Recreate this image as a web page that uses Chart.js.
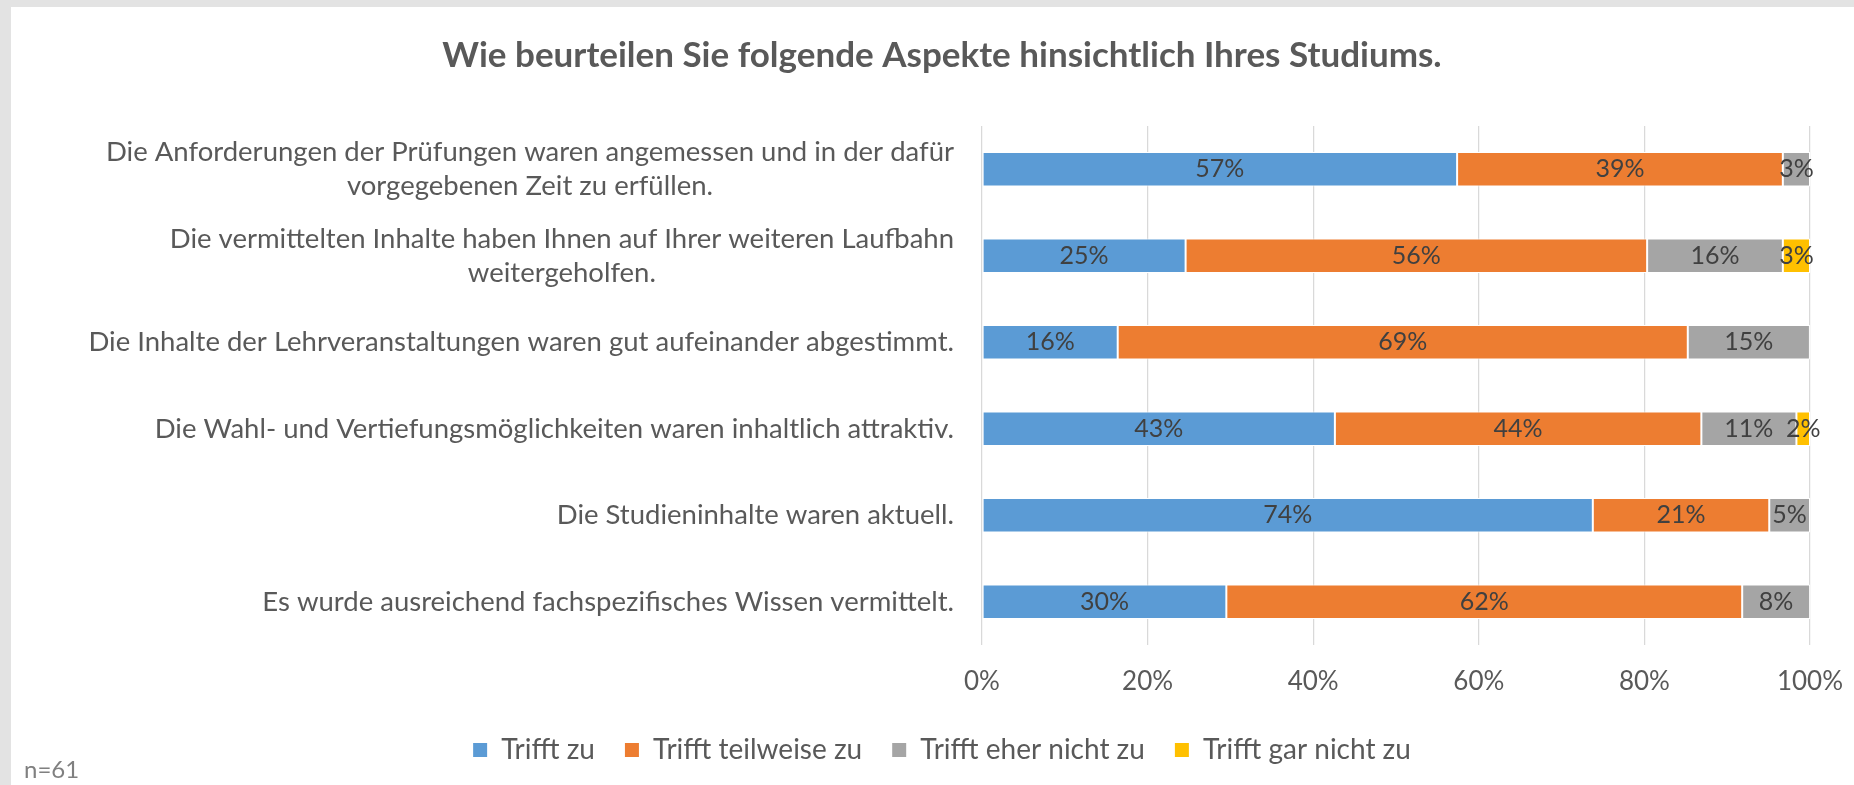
<!DOCTYPE html>
<html>
<head>
<meta charset="utf-8">
<script src="https://cdn.jsdelivr.net/npm/chart.js@4.4.1/dist/chart.umd.min.js"></script>
<style>
html, body { margin: 0; padding: 0; background: #e3e3e3; }
#wrap { position: absolute; left: 11px; top: 7px; width: 1843px; height: 778px; background: #fff; }
#note { position: absolute; left: 13px; top: 747px; font: 24px Lato; color: #808080; }
</style>
</head>
<body>
<div id="wrap">
    <canvas id="c" width="1843" height="778"></canvas>
    <div id="note">n=61</div>
</div>
<script>
// survey answers in percent, n=61
const categories = [
    ["Die Anforderungen der Prüfungen waren angemessen und in der dafür", "vorgegebenen Zeit zu erfüllen."],
    ["Die vermittelten Inhalte haben Ihnen auf Ihrer weiteren Laufbahn", "weitergeholfen."],
    "Die Inhalte der Lehrveranstaltungen waren gut aufeinander abgestimmt.",
    "Die Wahl- und Vertiefungsmöglichkeiten waren inhaltlich attraktiv.",
    "Die Studieninhalte waren aktuell.",
    "Es wurde ausreichend fachspezifisches Wissen vermittelt."
];
const trifftZu        = [57.38, 24.59, 16.39, 42.62, 73.77, 29.51];
const trifftTeilweise = [39.34, 55.74, 68.85, 44.26, 21.31, 62.30];
const trifftEherNicht = [3.28, 16.39, 14.75, 11.48, 4.92, 8.20];
const trifftGarNicht  = [0, 3.28, 0, 1.64, 0, 0];
const xTicks = [0, 20, 40, 60, 80, 100];

const FONT = "Lato";

const catLabels = {
    id: "catLabels",
    afterDraw(chart) {
        const ctx = chart.ctx;
        const y = chart.scales.y;
        const right = chart.chartArea.left - 28;
        ctx.save();
        ctx.font = "27.5px " + FONT;
        ctx.fillStyle = "#595959";
        ctx.textAlign = "center";
        ctx.textBaseline = "middle";
        categories.forEach((lab, i) => {
            const lines = Array.isArray(lab) ? lab : [lab];
            const w = Math.max(...lines.map(l => ctx.measureText(l).width));
            const cy = y.getPixelForValue(i);
            lines.forEach((l, j) => {
                ctx.fillText(l, right - w / 2, cy + (j - (lines.length - 1) / 2) * 34);
            });
        });
        ctx.restore();
    }
};

const barLabels = {
    id: "barLabels",
    afterDatasetsDraw(chart) {
        const ctx = chart.ctx;
        ctx.save();
        ctx.font = "25px " + FONT;
        ctx.fillStyle = "#404040";
        ctx.textAlign = "center";
        ctx.textBaseline = "middle";
        chart.data.datasets.forEach((ds, d) => {
            chart.getDatasetMeta(d).data.forEach((bar, i) => {
                const v = ds.data[i];
                if (!v) return;
                ctx.fillText(Math.round(v) + "%", (bar.x + bar.base) / 2, bar.y);
            });
        });
        ctx.restore();
    }
};

const seg = { borderColor: "#ffffff", borderWidth: 1, borderSkipped: false };

new Chart(document.getElementById("c"), {
    type: "bar",
    data: {
        labels: categories,
        datasets: [
            { label: "Trifft zu", data: trifftZu, backgroundColor: "#5B9BD5", ...seg },
            { label: "Trifft teilweise zu", data: trifftTeilweise, backgroundColor: "#ED7D31", ...seg },
            { label: "Trifft eher nicht zu", data: trifftEherNicht, backgroundColor: "#A5A5A5", ...seg },
            { label: "Trifft gar nicht zu", data: trifftGarNicht, backgroundColor: "#FFC000", ...seg }
        ]
    },
    options: {
        indexAxis: "y",
        responsive: false,
        animation: false,
        barPercentage: 0.4,
        categoryPercentage: 1,
        layout: { padding: { left: 63, right: 44, top: 0, bottom: 11 } },
        scales: {
            x: {
                stacked: true,
                min: 0,
                max: 100,
                afterBuildTicks: s => { s.ticks = xTicks.map(v => ({ value: v })); },
                afterFit: s => { s.height = 61; s.paddingLeft = 0; s.paddingRight = 0; },
                ticks: {
                    callback: v => v + "%",
                    color: "#595959",
                    font: { family: FONT, size: 26 },
                    padding: 21
                },
                grid: { color: "#d9d9d9", lineWidth: 1.25, drawTicks: false },
                border: { display: false }
            },
            y: {
                stacked: true,
                afterFit: s => { s.width = 908; },
                ticks: { display: false },
                grid: { display: false },
                border: { display: false }
            }
        },
        plugins: {
            title: {
                display: true,
                text: "Wie beurteilen Sie folgende Aspekte hinsichtlich Ihres Studiums.",
                color: "#595959",
                font: { family: FONT, size: 35, weight: "bold" },
                padding: { top: 28, bottom: 49 }
            },
            legend: {
                position: "bottom",
                labels: {
                    boxWidth: 14,
                    boxHeight: 14,
                    color: "#595959",
                    font: { family: FONT, size: 28 },
                    padding: 30,
                    generateLabels: chart => chart.data.datasets.map((ds, i) => ({
                        text: ds.label,
                        fillStyle: ds.backgroundColor,
                        strokeStyle: ds.backgroundColor,
                        lineWidth: 0,
                        fontColor: "#595959",
                        datasetIndex: i
                    }))
                }
            },
            tooltip: { enabled: false }
        }
    },
    plugins: [catLabels, barLabels]
});
</script>
</body>
</html>
